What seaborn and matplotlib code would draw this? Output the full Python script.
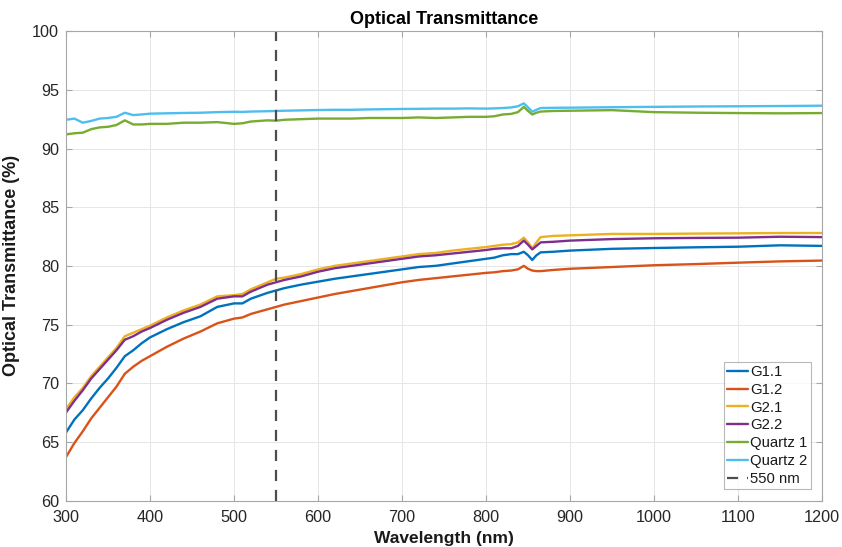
import numpy as np
import pandas as pd
import matplotlib
matplotlib.use("Agg")
import matplotlib.pyplot as plt
import seaborn as sns
from matplotlib.lines import Line2D

wavelength = [300, 310, 320, 330, 340, 350, 360, 370, 380, 390, 400, 420, 440, 460, 480,
              500, 510, 520, 540, 550, 560, 580, 600, 620, 640, 660, 680, 700, 720, 740,
              760, 780, 800, 810, 820, 830, 838, 845, 850, 855, 860, 865, 880, 900, 950,
              1000, 1050, 1100, 1150, 1200]

g11 = [65.8, 66.9, 67.7, 68.7, 69.6, 70.4, 71.3, 72.3, 72.8, 73.4, 73.9, 74.6, 75.2, 75.7, 76.5,
       76.8, 76.8, 77.2, 77.7, 77.9, 78.1, 78.4, 78.65, 78.9, 79.1, 79.3, 79.5, 79.7, 79.9, 80.0,
       80.2, 80.4, 80.6, 80.7, 80.9, 81.0, 81.0, 81.2, 80.9, 80.5, 80.9, 81.15, 81.2, 81.3, 81.45,
       81.52, 81.58, 81.63, 81.75, 81.7]

g12 = [63.7, 64.9, 65.9, 67.0, 67.9, 68.8, 69.7, 70.8, 71.4, 71.9, 72.3, 73.1, 73.8, 74.4, 75.1,
       75.5, 75.6, 75.9, 76.3, 76.5, 76.7, 77.0, 77.3, 77.6, 77.85, 78.1, 78.35, 78.6, 78.8, 78.95,
       79.1, 79.25, 79.4, 79.45, 79.55, 79.6, 79.7, 80.0, 79.75, 79.6, 79.55, 79.55, 79.65, 79.75, 79.9,
       80.05, 80.15, 80.27, 80.38, 80.45]

g21 = [67.8, 68.8, 69.6, 70.6, 71.4, 72.2, 73.0, 74.0, 74.3, 74.6, 74.9, 75.6, 76.2, 76.7, 77.4,
       77.5, 77.6, 78.0, 78.6, 78.9, 79.0, 79.3, 79.7, 80.0, 80.2, 80.4, 80.6, 80.8, 81.0, 81.1,
       81.3, 81.45, 81.6, 81.7, 81.8, 81.85, 82.0, 82.4, 82.0, 81.5, 82.0, 82.45, 82.55, 82.6, 82.72,
       82.72, 82.75, 82.77, 82.8, 82.8]

g22 = [67.5, 68.5, 69.4, 70.4, 71.2, 72.0, 72.8, 73.7, 74.0, 74.4, 74.7, 75.4, 76.0, 76.5, 77.2,
       77.4, 77.4, 77.8, 78.4, 78.6, 78.8, 79.1, 79.5, 79.8, 80.0, 80.2, 80.4, 80.6, 80.8, 80.9,
       81.05, 81.2, 81.35, 81.45, 81.5, 81.5, 81.7, 82.15, 81.8, 81.4, 81.7, 82.0, 82.05, 82.15, 82.28,
       82.35, 82.38, 82.4, 82.48, 82.45]

quartz1 = [91.2, 91.3, 91.35, 91.65, 91.8, 91.85, 92.0, 92.4, 92.05, 92.05, 92.1, 92.1, 92.2, 92.2, 92.25,
           92.1, 92.15, 92.3, 92.4, 92.37, 92.45, 92.5, 92.55, 92.55, 92.55, 92.6, 92.6, 92.6, 92.65, 92.6,
           92.65, 92.7, 92.7, 92.75, 92.9, 92.95, 93.1, 93.55, 93.2, 92.9, 93.05, 93.15, 93.2, 93.22, 93.27,
           93.1, 93.05, 93.02, 93.0, 93.02]

quartz2 = [92.45, 92.55, 92.2, 92.35, 92.55, 92.6, 92.7, 93.05, 92.85, 92.9, 92.97, 93.0, 93.03, 93.05, 93.1,
           93.13, 93.12, 93.15, 93.18, 93.2, 93.22, 93.25, 93.28, 93.3, 93.3, 93.33, 93.35, 93.37, 93.38, 93.4,
           93.4, 93.42, 93.4, 93.42, 93.45, 93.5, 93.6, 93.85, 93.5, 93.13, 93.3, 93.45, 93.47, 93.48, 93.52,
           93.55, 93.58, 93.6, 93.62, 93.65]

series_names = ["G1.1", "G1.2", "G2.1", "G2.2", "Quartz 1", "Quartz 2"]
series_vals = [g11, g12, g21, g22, quartz1, quartz2]
colors = ["#0072BD", "#D95319", "#EDB120", "#7E2F8E", "#77AC30", "#4DBEEE"]
ref_wavelength = 550
ref_label = "550 nm"

rows = []
for name, vals in zip(series_names, series_vals):
    for w, v in zip(wavelength, vals):
        rows.append({"Wavelength": w, "T": v, "Sample": name})
df = pd.DataFrame(rows)

sns.set_theme(style="white")
plt.rcParams["font.family"] = ["Liberation Sans", "DejaVu Sans"]

fig = plt.figure(figsize=(8.42, 5.47), dpi=100)
ax = fig.add_axes([0.0784, 0.085, 0.8979, 0.858])

sns.lineplot(data=df, x="Wavelength", y="T", hue="Sample", palette=colors,
             hue_order=series_names, linewidth=1.7, ax=ax, legend=False)

ax.axvline(ref_wavelength, color="#4d4d4d", linestyle=(0, (5, 4)), linewidth=1.6)

ax.set_xlim(300, 1200)
ax.set_ylim(60, 100)
ax.set_xticks(np.arange(300, 1201, 100))
ax.set_yticks(np.arange(60, 101, 5))
ax.grid(True, color="#e6e6e6", linewidth=0.7)
ax.set_axisbelow(True)
for sp in ax.spines.values():
    sp.set_color("#a6a6a6")
    sp.set_linewidth(0.8)
    sp.set_visible(True)
ax.tick_params(direction="in", length=4, width=0.8, color="#a6a6a6",
               labelsize=11.7, labelcolor="#262626", top=True, right=True,
               bottom=True, left=True)
ax.tick_params(axis="x", pad=7)
ax.tick_params(axis="y", pad=5)

ax.set_xlabel("Wavelength (nm)", fontsize=12.5, fontweight="bold", color="#1a1a1a", labelpad=4)
ax.set_ylabel("Optical Transmittance (%)", fontsize=13, fontweight="bold", color="#1a1a1a", labelpad=9)
ax.set_title("Optical Transmittance", fontsize=13, fontweight="bold", color="black", pad=5)

handles = [Line2D([0], [0], color=c, lw=1.7) for c in colors]
handles.append(Line2D([0], [0], color="#4d4d4d", lw=1.6, linestyle=(0, (5, 4))))
labels = series_names + [ref_label]
leg = ax.legend(handles, labels, loc="lower right", fontsize=10.7, frameon=True,
                fancybox=False, edgecolor="#a6a6a6", handlelength=1.4,
                handletextpad=0.15, borderpad=0.22, labelspacing=0.26,
                bbox_to_anchor=(1.0, 0.0), borderaxespad=0.75)
leg.get_frame().set_linewidth(0.8)
for t in leg.get_texts():
    t.set_color("#1a1a1a")

fig.savefig("out.png", dpi=100)
